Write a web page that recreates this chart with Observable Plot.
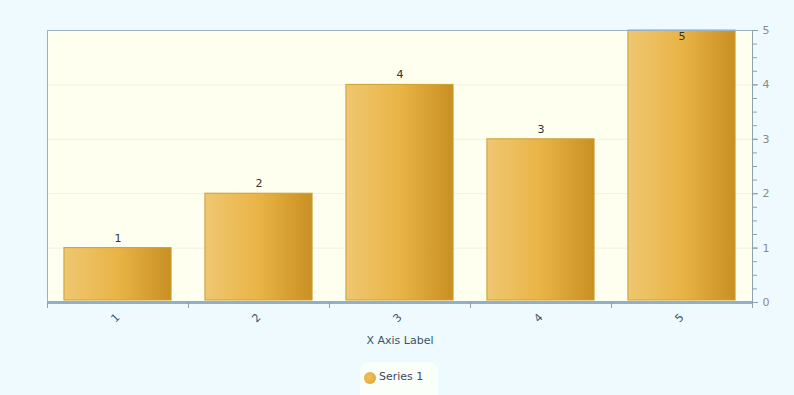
<!DOCTYPE html>
<html><head><meta charset="utf-8">
<script src="https://cdn.jsdelivr.net/npm/d3@7"></script>
<script src="https://cdn.jsdelivr.net/npm/@observablehq/plot@0.6"></script>
<style>
html,body{margin:0;padding:0;background:#eefaff;width:794px;height:395px;overflow:hidden;font-family:"DejaVu Sans",Verdana,sans-serif;}
#chart{position:absolute;left:0;top:0;}
#legend{position:absolute;left:360px;top:362px;width:78px;height:40px;background:#fbfff9;border-radius:9px;}
#legend .dot{position:absolute;left:4px;top:10px;width:12px;height:12px;border-radius:50%;background:radial-gradient(circle at 40% 40%,#f0c25a,#d9a232);}
#legend .txt{position:absolute;left:19px;top:8px;font-size:11px;color:#3b4b5b;}
</style></head>
<body>
<div id="chart"></div>
<div id="legend"><div class="dot"></div><div class="txt">Series 1</div></div>
<script>
const categories = [1, 2, 3, 4, 5];
const values = [1, 2, 4, 3, 5];
const yTicks = [0, 1, 2, 3, 4, 5];
const yMinorTicks = d3.range(0, 5.001, 0.25);
const seriesName = "Series 1";
const xLabel = "X Axis Label";

const data = categories.map((c, i) => ({cat: c, value: values[i]}));
const boundaries = categories.map(c => c - 0.5).concat([categories[categories.length - 1] + 0.5]);
const half = 0.38;

const chart = Plot.plot({
  width: 794,
  height: 395,
  marginLeft: 47,
  marginRight: 42,
  marginTop: 30,
  marginBottom: 93,
  style: {background: "transparent", fontFamily: "DejaVu Sans, Verdana, sans-serif", fontSize: "11px"},
  x: {type: "linear", domain: [0.5, 5.5], axis: null, label: null},
  y: {domain: [0, 5], axis: null, label: null},
  marks: [
    Plot.frame({fill: "#fffff0", stroke: null}),
    Plot.gridY(yTicks, {stroke: "#f2f2dc", strokeOpacity: 1}),
    Plot.rectY(data, {x1: d => d.cat - half, x2: d => d.cat + half, y: "value", fill: "url(#barGrad)", stroke: "#c9a032", strokeWidth: 1, insetBottom: 2}),
    Plot.text(data, {x: "cat", y: "value", text: d => String(d.value), dy: -10, fill: "#333", fontSize: 11,
      filter: d => d.value < 5}),
    Plot.text(data, {x: "cat", y: "value", text: d => String(d.value), dy: 6, fill: "#333", fontSize: 11,
      filter: d => d.value >= 5}),
    Plot.ruleX([0.5], {stroke: "#9db2c1"}),
    Plot.ruleY([5], {stroke: "#9db2c1"}),
    Plot.ruleX([5.5], {stroke: "#8fa1ae"}),
    Plot.ruleY([0], {stroke: "#8fb0c8", strokeWidth: 3}),
    Plot.axisX(boundaries, {anchor: "bottom", tickSize: 6, tickFormat: () => "", stroke: "#8fa1ae", label: null}),
    Plot.axisY(yTicks, {anchor: "right", tickSize: 5, tickPadding: 5, stroke: "#8fa1ae", color: "#8a8a8a", fontSize: 11, tickFormat: "d", label: null}),
    Plot.axisY(yMinorTicks, {anchor: "right", tickSize: 4, tickFormat: () => "", stroke: "#8fa1ae", label: null}),
    Plot.axisX(categories, {anchor: "bottom", tickSize: 0, tickPadding: 13, tickRotate: -45, color: "#3b5566", fontSize: 11, tickFormat: "d", label: null}),
    Plot.text([xLabel], {frameAnchor: "bottom", dy: 41, text: d => d, fill: "#3b5566", fontSize: 11})
  ]
});

const svg = d3.select(chart);
const defs = svg.insert("defs", ":first-child");
const g = defs.append("linearGradient").attr("id", "barGrad").attr("x1", "0%").attr("x2", "100%").attr("y1", "0%").attr("y2", "0%");
g.append("stop").attr("offset", "0%").attr("stop-color", "#efc771");
g.append("stop").attr("offset", "50%").attr("stop-color", "#e9b446");
g.append("stop").attr("offset", "100%").attr("stop-color", "#c98f22");

document.getElementById("chart").appendChild(chart);
</script>
</body></html>
